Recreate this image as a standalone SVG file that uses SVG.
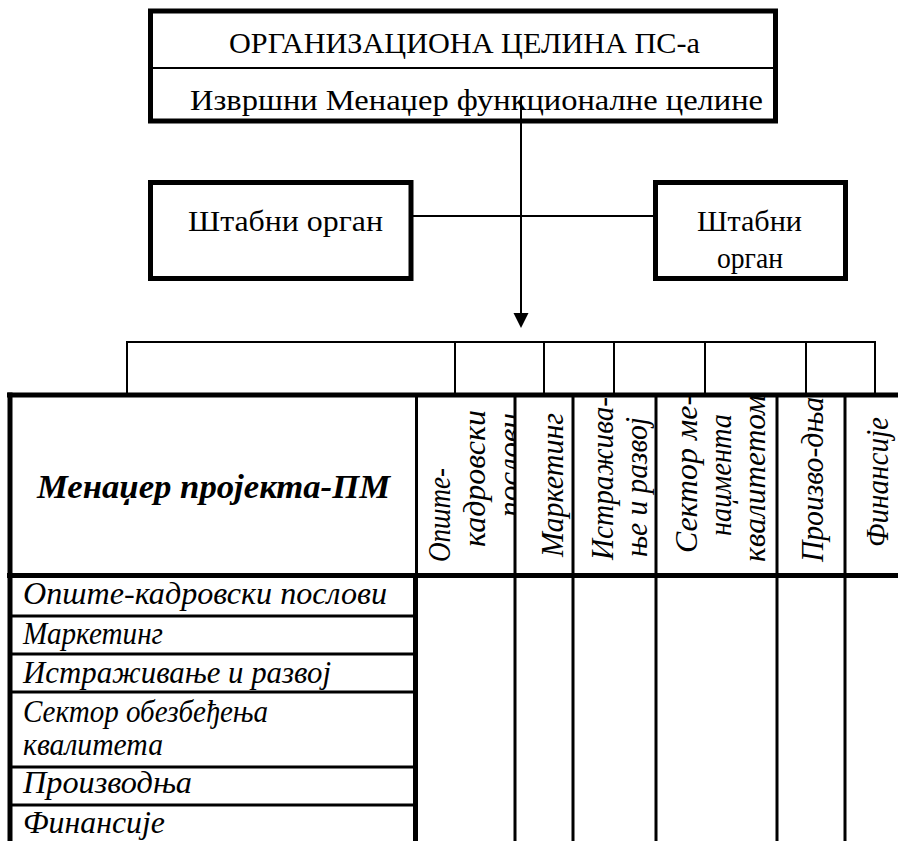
<svg xmlns="http://www.w3.org/2000/svg" width="898" height="841" viewBox="0 0 898 841">
  <style>
    text { font-family: "Liberation Serif", "Times New Roman", serif; fill: #000; }
    .t30 { font-size: 30px; }
    .it { font-size: 31px; font-style: italic; }
    .bi { font-size: 33px; font-style: italic; font-weight: bold; }
    .thick { fill: none; stroke: #000; stroke-width: 5; }
    .thin { fill: none; stroke: #000; stroke-width: 2; }
    .mid { fill: none; stroke: #000; stroke-width: 3; }
  </style>
  <defs>
    <clipPath id="col1clip">
      <rect x="418" y="398" width="96" height="174"/>
    </clipPath>
  </defs>
  <rect width="898" height="841" fill="#fff"/>

  <!-- connectors -->
  <g id="connectors">
    <line x1="411" y1="216" x2="655" y2="216" class="thin"/>
    <line x1="521" y1="97" x2="521" y2="314" class="thin"/>
    <path d="M513.5,313 L528.5,313 L521,328 Z" fill="#000"/>
  </g>

  <!-- top unit -->
  <g id="unit">
    <rect x="150.5" y="11" width="625" height="110" class="thick"/>
    <line x1="153" y1="68" x2="773" y2="68" class="thin"/>
    <text class="t30" x="229" y="53" textLength="471" lengthAdjust="spacingAndGlyphs">ОРГАНИЗАЦИОНА ЦЕЛИНА ПС-а</text>
    <text class="t30" x="190" y="110" textLength="573" lengthAdjust="spacingAndGlyphs">Извршни Менаџер функционалне целине</text>
  </g>

  <!-- staff bodies -->
  <g id="staff-left">
    <rect x="150.5" y="182.5" width="260.5" height="96" class="thick"/>
    <text class="t30" x="188" y="231" textLength="195" lengthAdjust="spacingAndGlyphs">Штабни орган</text>
  </g>
  <g id="staff-right">
    <rect x="655.5" y="182.5" width="190" height="96" class="thick"/>
    <text class="t30" x="697" y="231" textLength="105" lengthAdjust="spacingAndGlyphs">Штабни</text>
    <text class="t30" x="717" y="268" textLength="66" lengthAdjust="spacingAndGlyphs">орган</text>
  </g>

  <!-- empty header strip -->
  <g id="strip">
    <rect x="127" y="342" width="748" height="53" class="thin"/>
    <line x1="455" y1="342" x2="455" y2="395" class="thin"/>
    <line x1="544" y1="342" x2="544" y2="395" class="thin"/>
    <line x1="614" y1="342" x2="614" y2="395" class="thin"/>
    <line x1="705" y1="342" x2="705" y2="395" class="thin"/>
    <line x1="806" y1="342" x2="806" y2="395" class="thin"/>
  </g>

  <!-- responsibility matrix -->
  <g id="matrix">
    <line x1="7" y1="395" x2="898" y2="395" class="thick"/>
    <line x1="7" y1="575.5" x2="898" y2="575.5" class="thick"/>
    <line x1="10" y1="392.5" x2="10" y2="841" class="thick"/>
    <line x1="416.5" y1="395" x2="416.5" y2="575" class="mid"/>
    <line x1="415.5" y1="575" x2="415.5" y2="841" class="thick"/>
    <line x1="515" y1="395" x2="515" y2="841" class="mid"/>
    <line x1="573" y1="395" x2="573" y2="841" class="mid"/>
    <line x1="656" y1="395" x2="656" y2="841" class="mid"/>
    <line x1="777" y1="395" x2="777" y2="841" class="mid"/>
    <line x1="845" y1="395" x2="845" y2="841" class="mid"/>
    <line x1="12" y1="616" x2="413" y2="616" class="mid"/>
    <line x1="12" y1="654" x2="413" y2="654" class="mid"/>
    <line x1="12" y1="692" x2="413" y2="692" class="mid"/>
    <line x1="12" y1="767" x2="413" y2="767" class="mid"/>
    <line x1="12" y1="805" x2="413" y2="805" class="mid"/>
  </g>

  <g id="matrix-title">
    <text class="bi" x="37" y="498" textLength="353" lengthAdjust="spacingAndGlyphs">Менаџер пројекта-ПМ</text>
  </g>

  <g id="column-heads">
    <g clip-path="url(#col1clip)">
      <text class="it" transform="translate(450,562) rotate(-90)" textLength="94" lengthAdjust="spacingAndGlyphs">Опште-</text>
      <text class="it" transform="translate(485,547) rotate(-90)" textLength="137" lengthAdjust="spacingAndGlyphs">кадровски</text>
      <text class="it" transform="translate(520,517) rotate(-90)" textLength="104" lengthAdjust="spacingAndGlyphs">послови</text>
    </g>
    <text class="it" transform="translate(563,557) rotate(-90)" textLength="144" lengthAdjust="spacingAndGlyphs">Маркетинг</text>
    <text class="it" transform="translate(613,560) rotate(-90)" textLength="163" lengthAdjust="spacingAndGlyphs">Истражива-</text>
    <text class="it" transform="translate(647,557) rotate(-90)" textLength="140" lengthAdjust="spacingAndGlyphs">ње и развој</text>
    <text class="it" transform="translate(697,553) rotate(-90)" textLength="158" lengthAdjust="spacingAndGlyphs">Сектор ме-</text>
    <text class="it" transform="translate(731,536) rotate(-90)" textLength="122" lengthAdjust="spacingAndGlyphs">наџмента</text>
    <text class="it" transform="translate(765,562) rotate(-90)" textLength="167" lengthAdjust="spacingAndGlyphs">квалитетом</text>
    <text class="it" transform="translate(823,562) rotate(-90)" textLength="165" lengthAdjust="spacingAndGlyphs">Произво-дња</text>
    <text class="it" transform="translate(888,547) rotate(-90)" textLength="130" lengthAdjust="spacingAndGlyphs">Финансије</text>
  </g>

  <g id="row-heads">
    <text class="it" x="23" y="604" textLength="364" lengthAdjust="spacingAndGlyphs">Опште-кадровски послови</text>
    <text class="it" x="23" y="644" textLength="140" lengthAdjust="spacingAndGlyphs">Маркетинг</text>
    <text class="it" x="23" y="683" textLength="308" lengthAdjust="spacingAndGlyphs">Истраживање и развој</text>
    <text class="it" x="23" y="722" textLength="245" lengthAdjust="spacingAndGlyphs">Сектор обезбеђења</text>
    <text class="it" x="23" y="755" textLength="140" lengthAdjust="spacingAndGlyphs">квалитета</text>
    <text class="it" x="23" y="793" textLength="169" lengthAdjust="spacingAndGlyphs">Производња</text>
    <text class="it" x="23" y="833" textLength="142" lengthAdjust="spacingAndGlyphs">Финансије</text>
  </g>
</svg>
